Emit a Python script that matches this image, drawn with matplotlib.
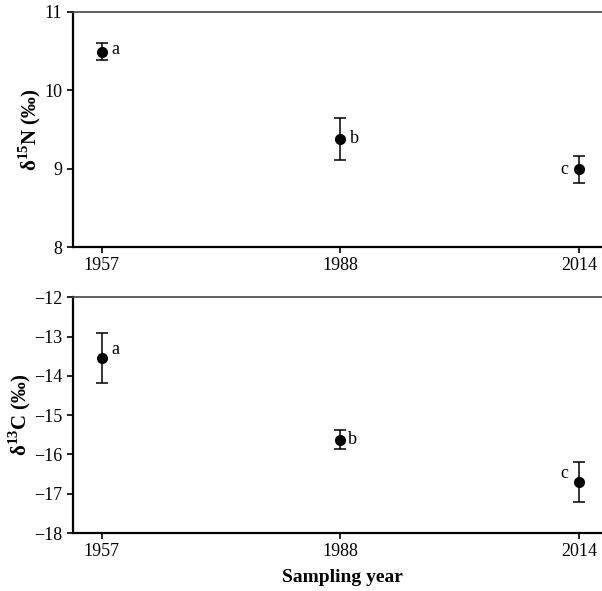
import matplotlib
matplotlib.use('Agg')
from matplotlib import pyplot as plt

plt.rcParams['font.family'] = ['Liberation Serif', 'DejaVu Serif']
plt.rcParams['mathtext.fontset'] = 'custom'
plt.rcParams['mathtext.rm'] = 'Liberation Serif'
plt.rcParams['mathtext.bf'] = 'Liberation Serif:bold'

years = ['1957', '1988', '2014']
n15 = [10.49, 9.38, 8.99]
n15_err = [0.11, 0.27, 0.17]
n15_let = ['a', 'b', 'c']
c13 = [-13.55, -15.62, -16.70]
c13_err = [0.64, 0.24, 0.50]
c13_let = ['a', 'b', 'c']

fig = plt.figure(figsize=(6.02, 5.91), dpi=100)
ax1 = fig.add_axes([0.121, 0.582, 0.895, 0.398])
ax2 = fig.add_axes([0.121, 0.098, 0.895, 0.399])

x = range(len(years))

def panel(ax, vals, errs, lets, ylim, ticks, ylabel, offs):
    ax.errorbar(x, vals, yerr=errs, fmt='o', color='black', ms=7,
                capsize=4, elinewidth=1.1, capthick=1.1)
    for i in x:
        ax.annotate(lets[i], (i, vals[i]), xytext=offs[i], textcoords='offset points',
                    ha='center', va='center', fontsize=13)
    ax.set_xlim(-0.12, 2.135)
    ax.set_ylim(*ylim)
    ax.set_yticks(ticks)
    ax.set_yticklabels([str(t).replace('-', '\u2212') for t in ticks])
    ax.set_xticks(list(x))
    ax.set_xticklabels(years)
    ax.tick_params(axis='both', labelsize=13, direction='out', length=4, width=1.2)
    ax.spines['right'].set_visible(False)
    ax.spines['left'].set_linewidth(1.6)
    ax.spines['bottom'].set_linewidth(1.6)
    ax.spines['top'].set_linewidth(1.2)
    ax.spines['top'].set_color('#444444')
    ax.set_ylabel(ylabel, fontsize=15, fontweight='bold', labelpad=1)

panel(ax1, n15, n15_err, n15_let, (8, 11), [8, 9, 10, 11],
      'δ$^{\\mathbf{15}}$N (‰)', [(10, 2), (10, 0), (-11, 0)])
panel(ax2, c13, c13_err, c13_let, (-18, -12), [-18, -17, -16, -15, -14, -13, -12],
      'δ$^{\\mathbf{13}}$C (‰)', [(10, 6), (9, 0), (-11, 6)])

ax2.set_xlabel('Sampling year', fontsize=14, fontweight='bold', labelpad=6)

fig.savefig('out.png', dpi=100)
